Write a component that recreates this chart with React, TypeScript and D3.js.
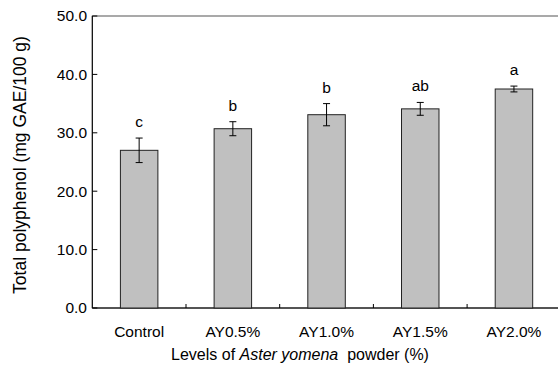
import * as d3 from "d3";

// ---- data ----
const categories = ["Control", "AY0.5%", "AY1.0%", "AY1.5%", "AY2.0%"];
const means = [27.0, 30.7, 33.1, 34.1, 37.5];
const errors = [2.1, 1.2, 1.9, 1.1, 0.5];
const letters = ["c", "b", "b", "ab", "a"];
const yTicks = [0, 10, 20, 30, 40, 50];

const W = 558;
const H = 370;
const margin = { left: 92.3, top: 16, right: 560.8, bottom: 308 };
const font = "'Liberation Sans', Arial, sans-serif";

export default function App() {
  const x = d3
    .scaleBand<string>()
    .domain(categories)
    .range([margin.left, margin.right])
    .paddingInner(0.6)
    .paddingOuter(0.3);
  const y = d3.scaleLinear().domain([0, 50]).range([margin.bottom, margin.top]);
  const step = x.step();
  const bw = x.bandwidth();

  return (
    <svg
      width={W}
      height={H}
      style={{ position: "absolute", left: 0, top: 0, background: "#fff" }}
      fontFamily={font}
    >
      {/* frame */}
      <rect
        x={margin.left}
        y={margin.top}
        width={margin.right - margin.left}
        height={margin.bottom - margin.top}
        fill="none"
        stroke="#555"
        strokeWidth={1}
      />
      <line x1={margin.left} x2={margin.left} y1={margin.top} y2={margin.bottom} stroke="#000" />
      <line x1={margin.left} x2={margin.right} y1={margin.bottom} y2={margin.bottom} stroke="#000" />

      {/* y ticks */}
      {yTicks.map((t) => (
        <g key={t}>
          <line x1={margin.left} x2={margin.left + 5} y1={y(t)} y2={y(t)} stroke="#000" />
          <text x={87} y={y(t)} dy="0.35em" textAnchor="end" fontSize={15.5} fill="#000">
            {t.toFixed(1)}
          </text>
        </g>
      ))}

      {/* x separators */}
      {categories.slice(1).map((c) => {
        const xx = (x(c) ?? 0) - step * 0.3;
        return <line key={c} x1={xx} x2={xx} y1={margin.bottom} y2={margin.bottom - 4} stroke="#000" />;
      })}

      {/* bars */}
      {categories.map((c, i) => {
        const x0 = x(c) ?? 0;
        const cx = x0 + bw / 2;
        const top = y(means[i] + errors[i]);
        const bot = y(means[i] - errors[i]);
        return (
          <g key={c}>
            <rect
              x={x0}
              y={y(means[i])}
              width={bw}
              height={margin.bottom - y(means[i])}
              fill="#c0c0c0"
              stroke="#222"
              strokeWidth={1}
            />
            <line x1={cx} x2={cx} y1={top} y2={bot} stroke="#000" />
            <line x1={cx - 3.5} x2={cx + 3.5} y1={top} y2={top} stroke="#000" />
            <line x1={cx - 3.5} x2={cx + 3.5} y1={bot} y2={bot} stroke="#000" />
            <text x={cx} y={top - 11} textAnchor="middle" fontSize={15.5} fill="#000">
              {letters[i]}
            </text>
            <text x={cx} y={337} textAnchor="middle" fontSize={15.5} fill="#000">
              {c}
            </text>
          </g>
        );
      })}

      {/* axis titles */}
      <text x={300} y={360} textAnchor="middle" fontSize={16} fill="#000" xmlSpace="preserve">
        Levels of <tspan fontStyle="italic">Aster yomena</tspan>{"  "}powder (%)
      </text>
      <text
        transform={`translate(26,${(margin.top + margin.bottom) / 2 + 3}) rotate(-90)`}
        textAnchor="middle"
        fontSize={17.5}
        fill="#000"
      >
        Total polyphenol (mg GAE/100 g)
      </text>
    </svg>
  );
}
